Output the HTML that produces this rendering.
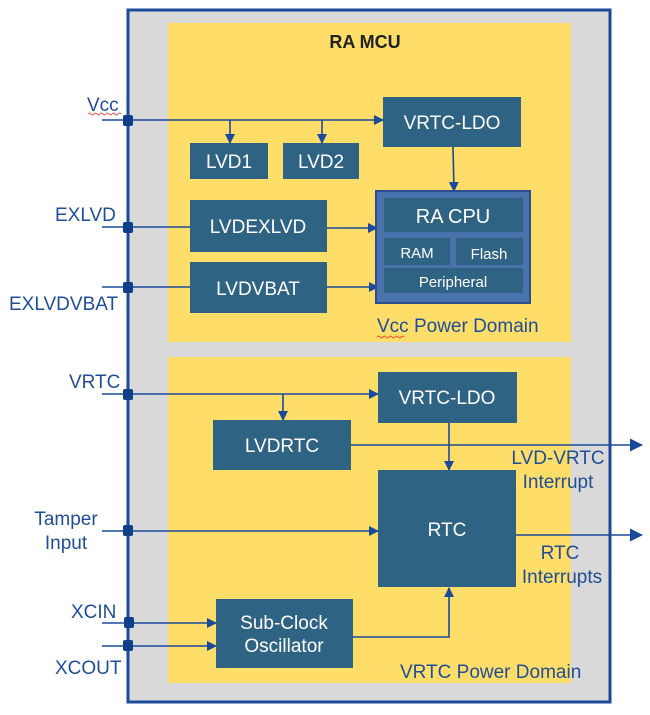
<!DOCTYPE html>
<html><head><meta charset="utf-8"><style>
html,body{margin:0;padding:0;background:#fff;}
svg{display:block;}
text{font-family:"Liberation Sans",sans-serif;}
.lbl{fill:#1f4e96;font-size:19px;}
.bx{fill:#2f6384;}
.bt{fill:#fff;font-size:19px;text-anchor:middle;}
.ln{stroke:#1a4a9a;stroke-width:1.6;fill:none;}
</style></head><body>
<svg width="650" height="715" viewBox="0 0 650 715" xmlns="http://www.w3.org/2000/svg">
<defs>
<marker id="a" markerWidth="10" markerHeight="10" refX="9" refY="5" orient="auto" markerUnits="userSpaceOnUse"><path d="M0,0 L10,5 L0,10 z" fill="#1a4a9a"/></marker>
<marker id="b" markerWidth="13" markerHeight="13" refX="12" refY="6.5" orient="auto" markerUnits="userSpaceOnUse"><path d="M0,0 L13,6.5 L0,13 z" fill="#1a4a9a"/></marker>
</defs>
<rect x="128" y="10" width="482" height="692" fill="#d9d9d9" stroke="#1a4a9a" stroke-width="3"/>
<rect x="168" y="23" width="403" height="319" fill="#fedd68"/>
<rect x="168" y="357" width="403" height="326" fill="#fedd68"/>
<text x="365" y="48" text-anchor="middle" font-size="18" font-weight="bold" fill="#222">RA MCU</text>

<line class="ln" x1="102" y1="120" x2="383" y2="120" marker-end="url(#a)"/>
<line class="ln" x1="230" y1="120" x2="230" y2="143" marker-end="url(#a)"/>
<line class="ln" x1="322" y1="120" x2="322" y2="143" marker-end="url(#a)"/>
<rect class="bx" x="383" y="97" width="138" height="50"/><text class="bt" x="452" y="129">VRTC-LDO</text>
<rect class="bx" x="190" y="143" width="78" height="36"/><text class="bt" x="229" y="168">LVD1</text>
<rect class="bx" x="283" y="143" width="76" height="36"/><text class="bt" x="321" y="168">LVD2</text>
<line class="ln" x1="453" y1="147" x2="454" y2="191" marker-end="url(#a)"/>
<line class="ln" x1="102" y1="227" x2="190" y2="227"/>
<rect class="bx" x="190" y="200" width="137" height="52"/><text class="bt" x="258" y="233">LVDEXLVD</text>
<line class="ln" x1="327" y1="228" x2="377" y2="228" marker-end="url(#a)"/>
<line class="ln" x1="102" y1="287" x2="190" y2="287"/>
<rect class="bx" x="190" y="262" width="137" height="51"/><text class="bt" x="258" y="295">LVDVBAT</text>
<line class="ln" x1="327" y1="287" x2="378" y2="287" marker-end="url(#a)"/>
<rect x="376" y="191" width="154" height="112" fill="#4a72ad" stroke="#2b4f8c" stroke-width="2"/>
<rect class="bx" x="384" y="198" width="139" height="34"/><text class="bt" x="453" y="223" style="font-size:20px">RA CPU</text>
<rect class="bx" x="384" y="238" width="66" height="27"/><text class="bt" x="417" y="258" style="font-size:15px">RAM</text>
<rect class="bx" x="456" y="238" width="67" height="27"/><text class="bt" x="489" y="259" style="font-size:15px">Flash</text>
<rect class="bx" x="384" y="268" width="139" height="25"/><text class="bt" x="453" y="287" style="font-size:15px">Peripheral</text>
<text class="lbl" x="377" y="332" font-size="18">Vcc Power Domain</text>

<line class="ln" x1="102" y1="394" x2="378" y2="394" marker-end="url(#a)"/>
<line class="ln" x1="283" y1="394" x2="283" y2="420" marker-end="url(#a)"/>
<rect class="bx" x="378" y="372" width="139" height="51"/><text class="bt" x="447" y="404">VRTC-LDO</text>
<rect class="bx" x="213" y="420" width="138" height="50"/><text class="bt" x="282" y="452">LVDRTC</text>
<line class="ln" x1="351" y1="445" x2="642" y2="445" marker-end="url(#b)"/>
<line class="ln" x1="449" y1="423" x2="449" y2="470" marker-end="url(#a)"/>
<rect class="bx" x="378" y="470" width="138" height="117"/><text class="bt" x="447" y="536">RTC</text>
<line class="ln" x1="102" y1="531" x2="378" y2="531" marker-end="url(#a)"/>
<line class="ln" x1="516" y1="535" x2="642" y2="535" marker-end="url(#b)"/>
<text class="lbl" x="558" y="464" text-anchor="middle">LVD-VRTC</text>
<text class="lbl" x="558" y="488" text-anchor="middle">Interrupt</text>
<text class="lbl" x="560" y="559" text-anchor="middle">RTC</text>
<text class="lbl" x="562" y="583" text-anchor="middle">Interrupts</text>
<line class="ln" x1="102" y1="623" x2="216" y2="623" marker-end="url(#a)"/>
<line class="ln" x1="102" y1="646" x2="216" y2="646" marker-end="url(#a)"/>
<rect class="bx" x="216" y="599" width="137" height="69"/><text class="bt" x="284" y="629">Sub-Clock</text><text class="bt" x="284" y="652">Oscillator</text>
<polyline class="ln" points="353,637 449,637 449,588" marker-end="url(#a)"/>
<text class="lbl" x="400" y="678" font-size="18">VRTC Power Domain</text>

<g fill="#0d3f8a">
<rect x="123" y="115" width="10" height="11" rx="2"/>
<rect x="123" y="222" width="10" height="11" rx="2"/>
<rect x="123" y="282" width="10" height="11" rx="2"/>
<rect x="123" y="389" width="10" height="11" rx="2"/>
<rect x="123" y="525" width="10" height="11" rx="2"/>
<rect x="124" y="617" width="10" height="11" rx="2"/>
<rect x="123" y="640" width="10" height="11" rx="2"/>
</g>
<text class="lbl" x="87" y="111">Vcc</text>
<path d="M88,114 q1.5,-2 3,0 t3,0 t3,0 t3,0 t3,0 t3,0 t3,0 t3,0 t3,0 t3,0 t3,0" stroke="#e0302a" stroke-width="0.8" fill="none"/>
<text class="lbl" x="55" y="221">EXLVD</text>
<text class="lbl" x="9" y="310">EXLVDVBAT</text>
<text class="lbl" x="69" y="388">VRTC</text>
<text class="lbl" x="66" y="525" text-anchor="middle">Tamper</text>
<text class="lbl" x="66" y="549" text-anchor="middle">Input</text>
<text class="lbl" x="71" y="618">XCIN</text>
<text class="lbl" x="55" y="674">XCOUT</text>
<path d="M377,337 q1.5,-2 3,0 t3,0 t3,0 t3,0 t3,0 t3,0 t3,0 t3,0 t3,0" stroke="#e0302a" stroke-width="0.8" fill="none"/>
</svg>
</body></html>
